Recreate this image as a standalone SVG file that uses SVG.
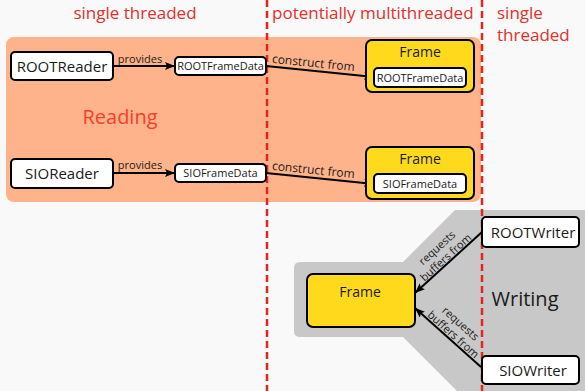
<svg xmlns="http://www.w3.org/2000/svg" width="585" height="391" viewBox="0 0 585 391">
<defs>
<marker id="ah" viewBox="0 0 10 8" refX="10" refY="4" markerWidth="10" markerHeight="8" markerUnits="userSpaceOnUse" orient="auto">
<path d="M0,0 L10,4 L0,8 L2,4 Z" fill="#000"/>
</marker>
<style>
text{font-family:"Open Sans","Noto Sans","DejaVu Sans",sans-serif;fill:#1a1a1a}
.hdr{font-size:17px;fill:#e3302a}
.box{fill:#fff;stroke:#000;stroke-width:2}
.frm{fill:#ffd91c;stroke:#000;stroke-width:2}
.n{font-size:15px;text-anchor:middle}
.s{font-size:11px;text-anchor:middle}
.lbl{font-size:11px;text-anchor:middle;fill:#1a1a1a}
.ft{font-size:14px;text-anchor:middle}
.cn{stroke:#000;stroke-width:2;fill:none;marker-end:url(#ah)}
.dash{stroke:#e8221c;stroke-width:2.5;stroke-dasharray:7 4}
</style>
</defs>
<rect width="585" height="391" fill="#f9f9f9"/>
<rect x="6" y="37" width="475" height="165" rx="8" fill="#ffb38a"/>
<path d="M300,262 L403,262 L455,210 L585,210 L585,391 L457,391 L403,337 L300,337 Q294,337 294,331 L294,268 Q294,262 300,262 Z" fill="#c8c8c8"/>
<text class="hdr" x="135" y="19" text-anchor="middle">single threaded</text>
<text class="hdr" x="272" y="19">potentially multithreaded</text>
<text class="hdr" x="497" y="19">single</text>
<text class="hdr" x="497" y="41">threaded</text>
<text x="120" y="124" text-anchor="middle" style="font-size:20px;fill:#f5402c">Reading</text>
<text x="525" y="306" text-anchor="middle" style="font-size:20px">Writing</text>
<line class="dash" x1="267" y1="0" x2="267" y2="391"/>
<line class="dash" x1="482" y1="0" x2="482" y2="391"/>
<g id="connectors">
<line class="cn" x1="113" y1="66" x2="175" y2="66"/>
<text class="lbl" x="140" y="63">provides</text>
<line class="cn" x1="113" y1="173" x2="175" y2="173"/>
<text class="lbl" x="140" y="169">provides</text>
<line class="cn" x1="266" y1="66" x2="374" y2="77"/>
<text class="lbl" style="font-size:12px" transform="translate(313,67) rotate(5.8)">construct from</text>
<line class="cn" x1="266" y1="173" x2="374" y2="184"/>
<text class="lbl" style="font-size:12px" transform="translate(313,174) rotate(5.8)">construct from</text>
<line class="cn" x1="482" y1="232" x2="415" y2="293"/>
<g transform="translate(449,262.5) rotate(-42.3)">
<text class="lbl" x="1" y="-15">requests</text>
<text class="lbl" x="1" y="-2">buffers from</text>
</g>
<line class="cn" x1="481" y1="367" x2="415" y2="308"/>
<g transform="translate(448,337.5) rotate(41.8)">
<text class="lbl" x="0" y="-15">requests</text>
<text class="lbl" x="2" y="-2">buffers from</text>
</g>
</g>
<g id="ROOTReader"><rect class="box" x="11" y="52" width="102" height="28" rx="4"/><text class="n" x="62" y="72">ROOTReader</text></g>
<g id="ROOTFrameData"><rect class="box" x="175" y="57" width="91" height="18" rx="4"/><text class="s" x="220.5" y="70">ROOTFrameData</text></g>
<g id="SIOReader"><rect class="box" x="11" y="159" width="102" height="29" rx="4"/><text class="n" x="62" y="179">SIOReader</text></g>
<g id="SIOFrameData"><rect class="box" x="175" y="164" width="91" height="18" rx="4"/><text class="s" x="220.5" y="177">SIOFrameData</text></g>
<g id="Frame1"><rect class="frm" x="366" y="40" width="108" height="52" rx="6"/><text class="ft" x="420" y="57">Frame</text>
<rect class="box" x="374" y="68" width="92" height="19" rx="4"/><text class="s" x="420" y="81.5">ROOTFrameData</text></g>
<g id="Frame2"><rect class="frm" x="366" y="147" width="108" height="52" rx="6"/><text class="ft" x="420" y="164">Frame</text>
<rect class="box" x="374" y="174" width="92" height="19" rx="4"/><text class="s" x="420" y="187.5">SIOFrameData</text></g>
<g id="Frame3"><rect class="frm" x="307" y="274" width="108" height="53" rx="6"/><text class="ft" x="360" y="297">Frame</text></g>
<g id="ROOTWriter"><rect class="box" x="482" y="217" width="97" height="30" rx="4"/><text class="n" x="533" y="238">ROOTWriter</text></g>
<g id="SIOWriter"><rect class="box" x="482" y="356" width="97" height="28" rx="4"/><text class="n" x="533" y="376">SIOWriter</text></g>
</svg>
